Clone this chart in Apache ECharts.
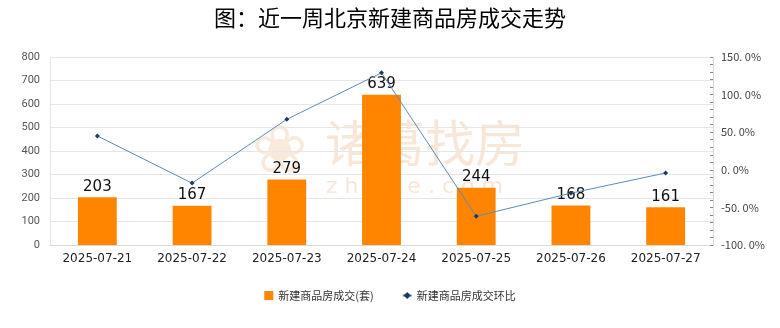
<!DOCTYPE html>
<html><head><meta charset="utf-8">
<script src="https://cdn.jsdelivr.net/npm/echarts@6/dist/echarts.min.js"></script>
<style>html,body{margin:0;padding:0;background:#fff}#c{width:780px;height:328px}</style>
</head><body><div id="c"></div>
<script>
const categories = ['2025-07-21','2025-07-22','2025-07-23','2025-07-24','2025-07-25','2025-07-26','2025-07-27'];
const volumes = [203, 167, 279, 639, 244, 168, 161];
const changes = [45.0, -17.7, 67.1, 129.0, -61.8, -31.1, -4.2];
const leftTicks = [0, 800, 100];
const rightTicks = [-100, 150, 50];

const chart = echarts.init(document.getElementById('c'));
chart.setOption({
  backgroundColor: '#fff',
  animation: false,
  title: {
    text: '图：近一周北京新建商品房成交走势',
    left: 'center', top: 2,
    textStyle: {fontFamily: 'Noto Sans CJK SC', fontSize: 22, fontWeight: 'normal', color: '#000'}
  },
  graphic: [
    {type: 'text', left: 325, top: 118, z: 0, style: {text: '诸葛找房', font: '50px "Noto Sans CJK SC"', fill: 'rgba(240,200,165,0.45)'}},
    {type: 'text', left: 326, top: 176, z: 0, style: {text: 'z h u g e . c o m', font: '22px "DejaVu Sans"', fill: 'rgba(240,200,165,0.45)'}},
    {type: 'text', left: 252, top: 122, z: 0, style: {text: '❀', font: '66px "DejaVu Sans"', fill: 'rgba(240,200,165,0.4)'}}
  ],
  legend: {
    bottom: 22, left: 'center', itemGap: 28, itemWidth: 9, itemHeight: 9,
    textStyle: {fontFamily: 'Noto Sans CJK SC', fontSize: 11, color: '#333'},
    data: [
      {name: '新建商品房成交(套)', icon: 'rect'},
      {name: '新建商品房成交环比'}
    ]
  },
  grid: {left: 50, right: 67, top: 57, bottom: 83},
  xAxis: {
    type: 'category', data: categories,
    axisLine: {lineStyle: {color: '#d9d9d9'}},
    axisTick: {show: false},
    axisLabel: {fontFamily: 'DejaVu Sans', fontSize: 12, color: '#222', margin: 8}
  },
  yAxis: [
    {
      type: 'value', min: leftTicks[0], max: leftTicks[1], interval: leftTicks[2],
      axisLine: {show: true, lineStyle: {color: '#e6e6e6'}},
      axisTick: {show: false},
      axisLabel: {fontFamily: 'Roboto', fontSize: 11, color: '#555', margin: 10},
      splitLine: {lineStyle: {color: '#e6e6e6'}}
    },
    {
      type: 'value', min: rightTicks[0], max: rightTicks[1], interval: rightTicks[2],
      axisLine: {show: true, lineStyle: {color: '#d9d9d9'}},
      axisTick: {show: true, inside: true, length: 3, lineStyle: {color: '#888'}},
      minorTick: {show: true, splitNumber: 5, length: 3, lineStyle: {color: '#888'}},
      axisLabel: {fontFamily: 'Noto Sans CJK JP', fontSize: 11, color: '#444', margin: 8,
        formatter: v => v.toFixed(1).replace('.', '. ') + '%'},
      splitLine: {show: false}
    }
  ],
  series: [
    {
      name: '新建商品房成交(套)', type: 'bar', data: volumes, barWidth: '41%',
      itemStyle: {color: '#ff8400'},
      label: {show: true, position: 'top', distance: 3, fontFamily: 'DejaVu Sans', fontSize: 15, color: '#111'},
      z: 2
    },
    {
      name: '新建商品房成交环比', type: 'line', yAxisIndex: 1, data: changes,
      symbol: 'diamond', symbolSize: 5,
      lineStyle: {color: '#5b8db8', width: 1},
      itemStyle: {color: '#1f3a5f'},
      z: 3
    }
  ]
});
</script></body></html>
